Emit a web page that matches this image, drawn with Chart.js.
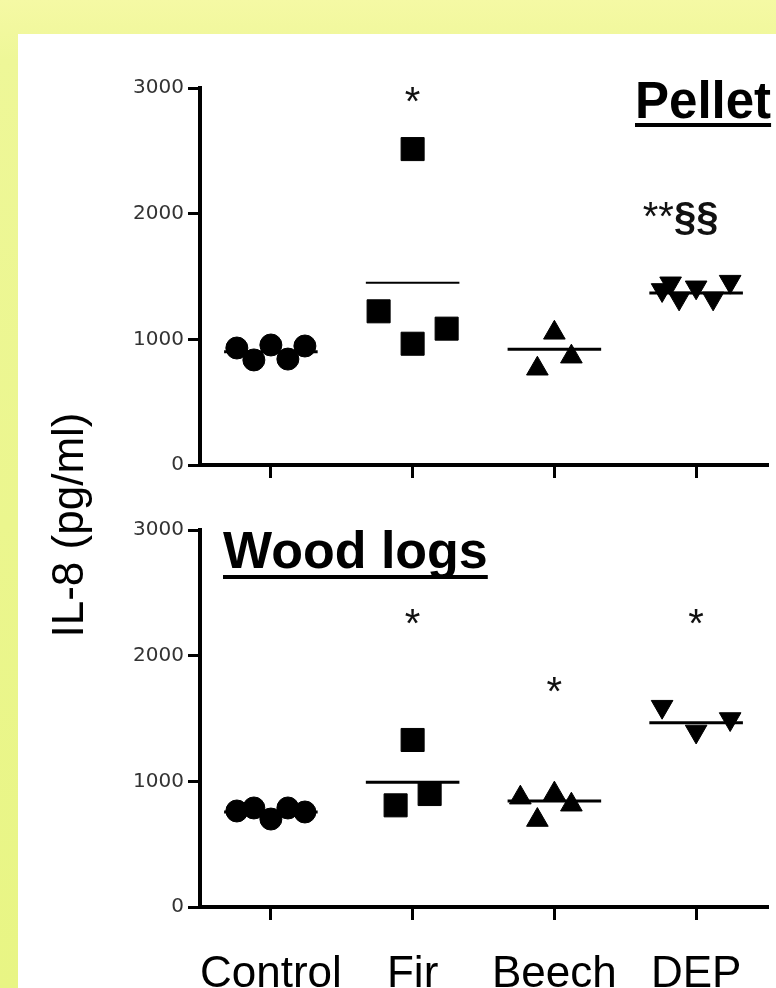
<!DOCTYPE html>
<html>
<head>
<meta charset="utf-8">
<title>IL-8 (pg/ml)</title>
<script src="https://cdn.jsdelivr.net/npm/chart.js"></script>
<style>
  html, body { margin: 0; padding: 0; }
  body {
    width: 776px; height: 988px; overflow: hidden; position: relative;
    background: linear-gradient(to bottom, #f5f9a4 0px, #eef798 60px, #e8f584 988px);
    font-family: "Liberation Sans", Arial, sans-serif;
  }
  #panel { position: absolute; left: 18px; top: 34px; right: 0; bottom: 0; background: #fff; }
  canvas { position: absolute; left: 0; }
  #pelletCanvas { top: 0; }
  #logsCanvas { top: 500px; }
  .title {
    position: absolute; font-weight: bold; line-height: 1; color: #000; white-space: nowrap;
    text-decoration: underline; text-decoration-thickness: 4px; text-decoration-skip-ink: none;
  }
  #pelletTitle { left: 635px; top: 75px; font-size: 51px; text-underline-offset: 5px; }
  #logsTitle { left: 223px; top: 524px; font-size: 52px; text-underline-offset: 7px; }
  #yTitle {
    position: absolute; width: 300px; height: 44px; line-height: 44px; font-size: 44px;
    text-align: center; color: #000; white-space: nowrap;
    left: -82.5px; top: 503px; transform: rotate(-90deg);
  }
</style>
</head>
<body>
<div id="panel"></div>
<canvas id="pelletCanvas" width="776" height="500"></canvas>
<canvas id="logsCanvas" width="776" height="488"></canvas>
<div id="pelletTitle" class="title">Pellet</div>
<div id="logsTitle" class="title">Wood logs</div>
<div id="yTitle">IL-8 (pg/ml)</div>
<script>
const groups = ['Control', 'Fir', 'Beech', 'DEP'];
const yTicks = [0, 1000, 2000, 3000];

// Pellet: IL-8 values per group, listed left to right as they sit in the column
const pelletControl = [931, 836, 955, 843, 947];
const pelletFir = [1223, 2514, 965, 1085];
const pelletBeech = [766, 1052, 862];
const pelletDEP = [1393, 1446, 1326, 1414, 1326, 1459];
const pelletMeans = [902, 1451, 921, 1369];
const pelletMarks = ['', '*', '', '**§§'];
const pelletMarkAt = [null, 2960, null, 1973];

// Wood logs
const logsControl = [764, 788, 700, 788, 756];
const logsFir = [809, 1329, 899];
const logsBeech = [870, 692, 902, 814];
const logsDEP = [1594, 1397, 1496];
const logsMeans = [756, 992, 843, 1467];
const logsMarks = ['', '*', '*', '*'];
const logsMarkAt = [null, 2324, 1782, 2324];

// scatter lanes inside each column (prism style spread)
const pelletLanes = [[-2, -1, 0, 1, 2], [-2, 0, 0, 2], [-1, 0, 1], [-2, -1.5, -1, 0, 1, 2]];
const logsLanes = [[-2, -1, 0, 1, 2], [-1, 0, 1], [-2, -1, 0, 1], [-2, 0, 2]];

const laneStep = 0.12;
const meanHalf = 0.33;
const styles = ['circle', 'rect', 'triangle', 'triangle'];
const radii = [11, 16.3, 12.5, 12.5];
const rotations = [0, 0, 0, 180];

const marksPlugin = {
  id: 'marks',
  afterDatasetsDraw(chart, args, opts) {
    const ctx = chart.ctx;
    const xs = chart.scales.x, ys = chart.scales.y;
    ctx.save();
    ctx.fillStyle = '#111';
    ctx.textBaseline = 'alphabetic';
    ctx.textAlign = 'left';
    opts.text.forEach((t, i) => {
      if (!t) return;
      const cx = xs.getPixelForValue(i + 1);
      const cy = ys.getPixelForValue(opts.at[i]);
      const stars = t.replace(/§/g, '');
      const para = t.replace(/\*/g, '');
      ctx.font = '40px "Liberation Sans"';
      const w1 = ctx.measureText(stars).width;
      ctx.font = 'bold 40px "Liberation Sans"';
      const w2 = para ? ctx.measureText(para).width : 0;
      // a lone star is centred on the column, otherwise the § part is
      const x = para ? cx - w2 / 2 - w1 : cx - w1 / 2;
      const base = para ? cy + 13 : cy + 22;
      ctx.font = '40px "Liberation Sans"';
      ctx.fillText(stars, x, base);
      if (para) {
        ctx.font = 'bold 40px "Liberation Sans"';
        ctx.fillText(para, x + w1, base);
      }
    });
    ctx.restore();
  }
};

function makePanel(canvasId, lists, lanes, means, lineWidths, marks, markAt, padTop, xHeight, showLabels) {
  const pointSets = lists.map((vals, g) => ({
    type: 'scatter',
    data: vals.map((v, k) => ({ x: g + 1 + lanes[g][k] * laneStep, y: v })),
    pointStyle: styles[g],
    pointRadius: radii[g],
    pointRotation: rotations[g],
    backgroundColor: '#000',
    borderColor: '#000',
    borderWidth: 1,
    order: 2
  }));
  const meanSets = means.map((m, g) => ({
    type: 'line',
    data: [{ x: g + 1 - meanHalf, y: m }, { x: g + 1 + meanHalf, y: m }],
    borderColor: '#000',
    borderWidth: lineWidths[g],
    pointRadius: 0,
    order: 1
  }));

  return new Chart(document.getElementById(canvasId), {
    type: 'scatter',
    data: { datasets: pointSets.concat(meanSets) },
    options: {
      responsive: false,
      animation: false,
      events: [],
      layout: { autoPadding: false, padding: { top: padTop, right: 9, bottom: 0, left: 0 } },
      plugins: {
        legend: { display: false },
        tooltip: { enabled: false },
        marks: { text: marks, at: markAt }
      },
      scales: {
        x: {
          type: 'linear', min: 0.5, max: 4.5,
          afterBuildTicks: s => { s.ticks = groups.map((_, i) => ({ value: i + 1 })); },
          afterFit: s => { s.height = xHeight; },
          border: { color: '#000', width: 4 },
          grid: { drawOnChartArea: false, drawTicks: true, tickLength: 13, tickWidth: 3, tickColor: '#000', lineWidth: 3, color: '#000' },
          ticks: {
            display: showLabels, padding: 28, color: '#000',
            font: { family: 'Liberation Sans', size: 44 },
            callback: v => groups[v - 1]
          }
        },
        y: {
          min: 0, max: 3000,
          afterBuildTicks: s => { s.ticks = yTicks.map(v => ({ value: v })); },
          afterFit: s => { s.width = 200; },
          border: { color: '#000', width: 4 },
          grid: { drawOnChartArea: false, drawTicks: true, tickLength: 12, tickWidth: 3, tickColor: '#000', lineWidth: 3, color: '#000' },
          ticks: {
            padding: 4, color: '#333',
            font: { family: 'DejaVu Sans', size: 20 },
            callback: v => String(v)
          }
        }
      }
    },
    plugins: [marksPlugin]
  });
}

makePanel('pelletCanvas',
  [pelletControl, pelletFir, pelletBeech, pelletDEP], pelletLanes,
  pelletMeans, [3, 2, 3, 3], pelletMarks, pelletMarkAt, 88, 35, false);

makePanel('logsCanvas',
  [logsControl, logsFir, logsBeech, logsDEP], logsLanes,
  logsMeans, [3, 3, 3, 3], logsMarks, logsMarkAt, 30, 81, true);
</script>
</body>
</html>
